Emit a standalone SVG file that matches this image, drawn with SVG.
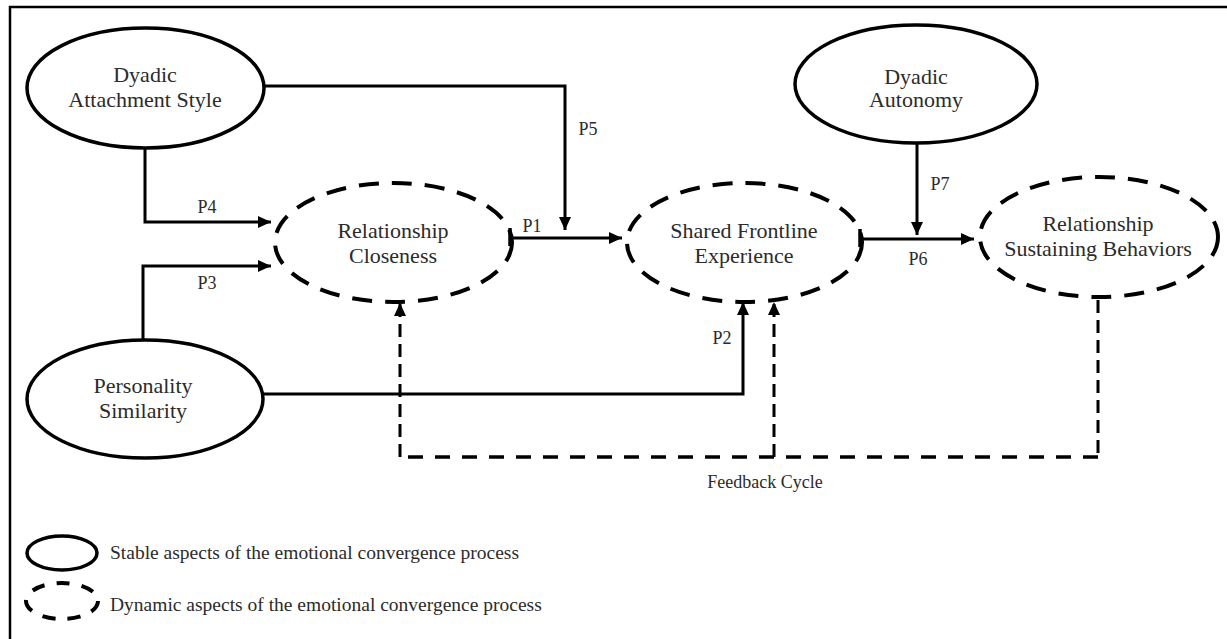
<svg xmlns="http://www.w3.org/2000/svg" width="1227" height="639" viewBox="0 0 1227 639">
<style>
.bg{fill:#fff}
.frame{fill:none;stroke:#000;stroke-width:2.5}
.stable{fill:none;stroke:#000;stroke-width:3.5}
.dyn{fill:none;stroke:#000;stroke-width:4;stroke-dasharray:20 13}
.t{font-family:"Liberation Serif","Times New Roman",serif;font-size:22px;fill:#2b2b2b;text-anchor:middle}
.lbl{font-family:"Liberation Serif","Times New Roman",serif;font-size:18px;fill:#2b2b2b;text-anchor:middle}
.leg{font-family:"Liberation Serif","Times New Roman",serif;font-size:19.5px;fill:#2b2b2b}
.c{fill:none;stroke:#000;stroke-width:3}
.fb{fill:none;stroke:#000;stroke-width:3;stroke-dasharray:13 7}
.fbh{fill:none;stroke:#000;stroke-width:3.5;stroke-dasharray:15 12}
.bar{stroke:#000;stroke-width:3.5}
</style>
<defs>
<marker id="ah" markerUnits="userSpaceOnUse" markerWidth="14" markerHeight="12" refX="13" refY="6" orient="auto">
<path d="M0,0 L13,6 L0,12 Z" fill="#000"/>
</marker>
</defs>
<rect class="bg" x="0" y="0" width="1227" height="639"/>
<path class="frame" d="M10,639 L10,7 L1227,7"/>

<g id="connectors">
<path class="c" d="M264,86 L565,86 L565,230" marker-end="url(#ah)"/>
<path class="c" d="M145,148 L145,222 L271,222" marker-end="url(#ah)"/>
<path class="c" d="M143,340 L143,266 L271,266" marker-end="url(#ah)"/>
<path class="c" d="M263,394 L743,394 L743,302" marker-end="url(#ah)"/>
<path class="c" d="M510,238 L622,238" marker-end="url(#ah)"/>
<line class="bar" x1="510" y1="228" x2="510" y2="246"/>
<path class="c" d="M917,143 L917,235" marker-end="url(#ah)"/>
<path class="c" d="M860,239 L974,239" marker-end="url(#ah)"/>
<line class="bar" x1="860" y1="229" x2="860" y2="247"/>
<path class="fb" d="M1098,300 L1098,457"/>
<path class="fbh" d="M1098,457 L400,457"/>
<path class="fb" d="M400,457 L400,303" marker-end="url(#ah)"/>
<path class="fb" d="M774,457 L774,302" marker-end="url(#ah)"/>
<text class="lbl" x="588" y="135">P5</text>
<text class="lbl" x="207" y="213">P4</text>
<text class="lbl" x="207" y="289">P3</text>
<text class="lbl" x="532" y="232">P1</text>
<text class="lbl" x="722" y="344">P2</text>
<text class="lbl" x="940" y="190">P7</text>
<text class="lbl" x="918" y="265">P6</text>
<text class="lbl" x="765" y="488">Feedback Cycle</text>
</g>

<g id="dyadic-attachment-style">
<ellipse class="stable" cx="145.5" cy="88" rx="118.5" ry="60"/>
<text class="t" x="145" y="82">Dyadic</text>
<text class="t" x="145" y="107">Attachment Style</text>
</g>
<g id="dyadic-autonomy">
<ellipse class="stable" cx="916" cy="84" rx="121" ry="59"/>
<text class="t" x="916" y="84">Dyadic</text>
<text class="t" x="916" y="107">Autonomy</text>
</g>
<g id="personality-similarity">
<ellipse class="stable" cx="145" cy="399" rx="118" ry="59"/>
<text class="t" x="143" y="393">Personality</text>
<text class="t" x="143" y="418">Similarity</text>
</g>
<g id="relationship-closeness">
<ellipse class="dyn" cx="393.5" cy="242.5" rx="118.5" ry="59.5"/>
<text class="t" x="393" y="238">Relationship</text>
<text class="t" x="393" y="263">Closeness</text>
</g>
<g id="shared-frontline-experience">
<ellipse class="dyn" cx="744.5" cy="242.5" rx="117.5" ry="59.5"/>
<text class="t" x="744" y="238">Shared Frontline</text>
<text class="t" x="744" y="263">Experience</text>
</g>
<g id="relationship-sustaining-behaviors">
<ellipse class="dyn" cx="1099" cy="237" rx="119" ry="60"/>
<text class="t" x="1098" y="231">Relationship</text>
<text class="t" x="1098" y="256">Sustaining Behaviors</text>
</g>

<g id="legend">
<ellipse class="stable" cx="62" cy="553" rx="35" ry="17"/>
<text class="leg" x="110" y="559">Stable aspects of the emotional convergence process</text>
<ellipse cx="62" cy="601" rx="36" ry="18" fill="none" stroke="#000" stroke-width="4" stroke-dasharray="13 12"/>
<text class="leg" x="110" y="611">Dynamic aspects of the emotional convergence process</text>
</g>
</svg>
